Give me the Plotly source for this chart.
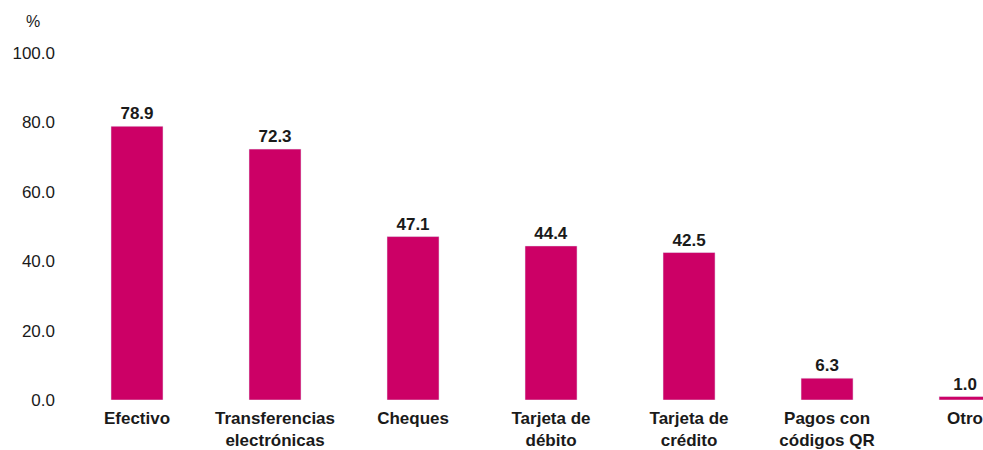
import plotly.graph_objects as go

categories = ["Efectivo", "Transferencias<br>electrónicas", "Cheques", "Tarjeta de<br>débito",
              "Tarjeta de<br>crédito", "Pagos con<br>códigos QR", "Otro"]
values = [78.9, 72.3, 47.1, 44.4, 42.5, 6.3, 1.0]
y_ticks = [0, 20, 40, 60, 80, 100]
y_tick_labels = ["0.0", "20.0", "40.0", "60.0", "80.0", "100.0"]

fig = go.Figure(go.Bar(
    x=categories, y=values,
    marker=dict(color="#CC0066"),
    text=[f"{v:.1f}" for v in values],
    textposition="outside",
    cliponaxis=False,
    textfont=dict(family="Liberation Sans, Arial", size=17, color="#1a1a1a", weight="bold"),
))

fig.update_layout(
    width=983, height=450,
    margin=dict(l=68, r=0, t=53, b=50),
    plot_bgcolor="white", paper_bgcolor="white",
    bargap=0.623,
    showlegend=False,
    font=dict(family="Liberation Sans, Arial", size=17, color="#1a1a1a"),
    xaxis=dict(range=[-0.5, 6.13], showline=False, showgrid=False, ticks="",
               ticklabelstandoff=6, automargin=False,
               tickfont=dict(size=17, weight="bold"), fixedrange=True),
    yaxis=dict(range=[0, 100], tickvals=y_ticks, ticktext=y_tick_labels,
               showgrid=False, zeroline=False, showline=False, ticks="",
               ticklabelstandoff=12, automargin=False, tickfont=dict(size=17)),
    annotations=[dict(text="%", xref="paper", yref="paper", x=-0.038, y=1.09,
                      xanchor="center", yanchor="middle", showarrow=False,
                      font=dict(size=16))],
)

fig.write_html("out.html", config={"displayModeBar": False},
               post_script="document.body.style.margin='0';document.body.style.overflow='hidden';")
